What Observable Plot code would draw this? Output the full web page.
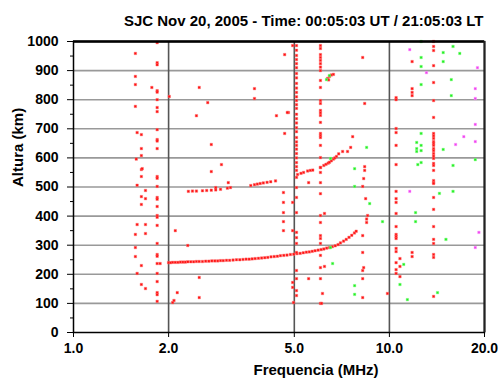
<!DOCTYPE html>
<html><head><meta charset="utf-8">
<script src="https://cdn.jsdelivr.net/npm/d3@7"></script>
<script src="https://cdn.jsdelivr.net/npm/@observablehq/plot@0.6"></script>
<style>body{margin:0;background:#fff}</style>
</head><body><div id="chart"></div>
<script>
const titleText = "SJC Nov 20, 2005 - Time: 00:05:03 UT / 21:05:03 LT";
const xLabel = "Frequencia (MHz)";
const yLabel = "Altura (km)";
const xTicks = [1, 2, 5, 10, 20];
const xTickLabels = ["1.0", "2.0", "5.0", "10.0", "20.0"];
const xGrid = [2, 5, 10];
const yTicks = [0, 100, 200, 300, 400, 500, 600, 700, 800, 900, 1000];
const yGrid = [100, 200, 300, 400, 500, 600, 700, 800, 900];
const yMinor = [50, 150, 250, 350, 450, 550, 650, 750, 850, 950];

// main F-layer trace [MHz, km]
const lowerTrace = [[2.0,240],[2.03,240],[2.06,241],[2.1,241],[2.14,241],[2.18,242],[2.22,242],[2.26,242],[2.3,243],[2.35,243],[2.4,243],[2.45,244],[2.5,244],[2.56,244],[2.62,245],[2.68,245],[2.74,246],[2.8,246],[2.86,246],[2.92,247],[2.98,247],[3.05,248],[3.12,248],[3.2,249],[3.28,250],[3.36,250],[3.44,251],[3.52,252],[3.6,252],[3.68,253],[3.76,254],[3.85,255],[3.94,256],[4.03,257],[4.12,258],[4.22,260],[4.32,261],[4.42,262],[4.52,264],[4.63,265],[4.74,266],[4.86,268],[4.98,269],[5.1,271],[5.22,272],[5.34,274],[5.46,276],[5.58,277],[5.7,279],[5.82,281],[5.95,283],[6.08,285],[6.2,287],[6.33,290],[6.46,292],[6.6,295],[6.74,298],[6.88,302],[7.0,308],[7.16,314],[7.3,320],[7.45,327],[7.6,334],[7.75,342],[7.85,348]];
// second-hop trace
const upperTrace = [[2.31,485],[2.38,486],[2.45,486],[2.56,487],[2.64,488],[2.73,489],[2.82,490],[2.92,492],[3.07,496],[3.14,498],[3.64,505],[3.74,508],[3.82,510],[3.9,512],[3.99,514],[4.1,516],[4.21,518],[4.36,521],[5.12,543],[5.25,547],[5.35,550],[5.51,555],[5.62,557],[5.72,558],[6.05,567],[6.2,574],[6.3,578],[6.4,582],[6.46,585],[6.55,590],[6.65,596],[6.72,600],[6.8,605],[6.91,614]];
const cluster875 = [[6.37,873],[6.46,880],[6.55,885],[6.65,887],[6.42,868]];
const xMode = [[8.41,460],[8.53,402],[8.47,378],[8.47,390]];

// vertical interference streaks: frequency and heights
const streak185 = [996,927,920,831,826,800,773,759,697,663,658,632,536,530,502,464,458,433,402,396,368,306,268,262,237,203,175,137,130,107];
const streak508 = [986,970,952,938,924,910,890,875,856,840,825,810,797,783,770,750,735,720,704,690,670,655,643,630,615,600,584,570,557,533,498,464,412,344,326,306,275,213,185,144,127];
const streak605 = [986,976,955,945,935,924,912,900,866,842,797,787,763,755,746,722,684,677,670,643,601,567,550,515,477,402,378,333,323,306,265,223,185,100];
const streak105 = [807,800,701,687,643,577,485,460,447,409,364,337,330,323,289,278,240,216,203];
const streak138 = [1000,983,969,917,859,797,739,684,676,667,656,650,643,632,625,615,606,598,581,574,557,522,515,512,464,423,364,320,306,268,258,124];

const leftScatter = [[1.57,959],[1.57,880],[1.57,852],[1.57,777],[1.59,687],[1.64,680],[1.64,632],[1.64,608],[1.58,596],[1.64,560],[1.65,563],[1.64,536],[1.59,506],[1.69,488],[1.64,467],[1.69,460],[1.64,440],[1.59,371],[1.69,371],[1.57,337],[1.69,340],[1.57,292],[1.57,261],[1.64,230],[1.59,203],[1.64,165],[1.69,151],[1.88,237],[1.77,842]];
const midScatter = [[2.5,842],[2.66,790],[2.45,745],[2.73,646],[2.73,553],[2.01,811],[2.10,350],[2.30,299],[2.50,189],[2.50,120],[2.13,137],[2.06,103],[2.08,110],[4.94,986],[4.66,955],[3.74,838],[3.74,804],[4.39,745],[4.79,756],[4.66,684],[2.94,577],[3.09,515],[2.82,498],[4.62,481],[4.62,447],[4.94,447],[4.62,412],[4.62,381],[4.62,350],[4.94,350],[4.94,172],[4.94,155],[4.97,103],[5.55,515],[5.55,185],[6.23,227],[6.23,409],[6.14,134],[6.10,100],[8.23,945],[8.35,787],[4.75,756],[7.65,673],[7.54,636],[7.37,622],[7.11,622],[8.35,570],[8.35,557],[8.29,529],[8.23,502],[8.23,333],[8.23,275],[8.23,213],[8.23,185],[8.23,120],[8.29,223],[9.86,134],[11.8,931],[11.8,838],[11.8,825],[11.8,814],[10.8,254],[10.8,227],[10.8,192],[11.8,275],[11.8,261]];
const greenEchoes = [[12.6,1000],[15.9,983],[14.8,962],[16.7,959],[12.6,945],[14.8,931],[12.6,914],[15.7,869],[12.6,852],[15.7,814],[12.6,684],[12.2,653],[12.6,643],[12.2,632],[12.2,622],[12.6,625],[14.8,629],[18.7,594],[12.6,584],[12.3,577],[15.9,574],[14.4,478],[15.9,485],[12.1,412],[12.1,381],[9.51,381],[15.1,320],[11.1,234],[10.8,165],[14.2,137],[11.4,113],[6.46,883],[6.32,869],[8.47,636],[7.76,563],[7.76,502],[8.66,443],[6.61,237],[7.76,161],[7.76,131],[6.51,292],[6.51,598]];
const magentaEchoes = [[11.6,972],[13.1,893],[19.0,910],[18.7,838],[18.7,804],[18.7,715],[17.2,673],[18.7,656],[16.2,646],[11.6,485],[19.2,344],[18.7,292]];

const streak = (f, hs) => hs.map(h => [f, h]);
const redPoints = [
  ...lowerTrace, ...upperTrace, ...cluster875, ...xMode,
  ...streak(1.84, streak185), ...streak(5.08, streak508), ...streak(6.05, streak605),
  ...streak(10.5, streak105), ...streak(13.8, streak138),
  ...leftScatter, ...midScatter
];

const dotOpts = (fill, halo) => ({x: d => d[0], y: d => d[1], symbol: "square", r: 1.4, fill, stroke: halo, strokeWidth: 1, strokeOpacity: 0.45});

const chart = Plot.plot({
  width: 498, height: 379,
  marginLeft: 73, marginRight: 14, marginTop: 41, marginBottom: 47,
  style: {fontFamily: "'Liberation Sans', Arial, sans-serif", fontSize: "14px", fontWeight: "bold", color: "#000", background: "#fff"},
  x: {type: "log", domain: [1, 20]},
  y: {domain: [0, 1000]},
  marks: [
    Plot.gridY(yGrid, {stroke: "#999", strokeOpacity: 1, strokeWidth: 1.6}),
    Plot.gridX(xGrid, {stroke: "#555", strokeOpacity: 1, strokeWidth: 1.6}),
    Plot.dot(redPoints, dotOpts("#ff1010", "#ff7070")),
    Plot.dot(greenEchoes, dotOpts("#22ee22", "#88ff88")),
    Plot.dot(magentaEchoes, dotOpts("#ee44ee", "#ff99ff")),
    Plot.axisX(xTicks, {tickFormat: () => "", tickSize: 5, label: null}),
    Plot.text(xTicks, {x: d => d, text: (d, i) => xTickLabels[i], frameAnchor: "bottom", dy: 11, lineAnchor: "top", fontSize: 14, fontWeight: "bold"}),
    Plot.axisY(yTicks, {tickSize: 6, tickPadding: 9, label: null, tickFormat: d => String(d), fontSize: 14}),
    Plot.axisY(yMinor, {tickSize: 3, tickFormat: () => "", label: null}),
    Plot.frame({stroke: "#000", strokeWidth: 1.5}),
    Plot.ruleY([1000], {stroke: "#000", strokeWidth: 2.5}),
    Plot.ruleX([20], {stroke: "#222", strokeWidth: 2}),
    Plot.text([titleText], {frameAnchor: "top-right", dx: -1, dy: -16, lineAnchor: "bottom", textAnchor: "end", fontSize: 15, fontWeight: "bold"}),
    Plot.text([xLabel], {frameAnchor: "bottom", dx: 37, dy: 42, lineAnchor: "bottom", fontSize: 15, fontWeight: "bold"}),
    Plot.text([yLabel], {frameAnchor: "left", dx: -51, rotate: -90, lineAnchor: "bottom", fontSize: 15, fontWeight: "bold"})
  ]
});
document.getElementById("chart").appendChild(chart);
</script>
</body></html>
